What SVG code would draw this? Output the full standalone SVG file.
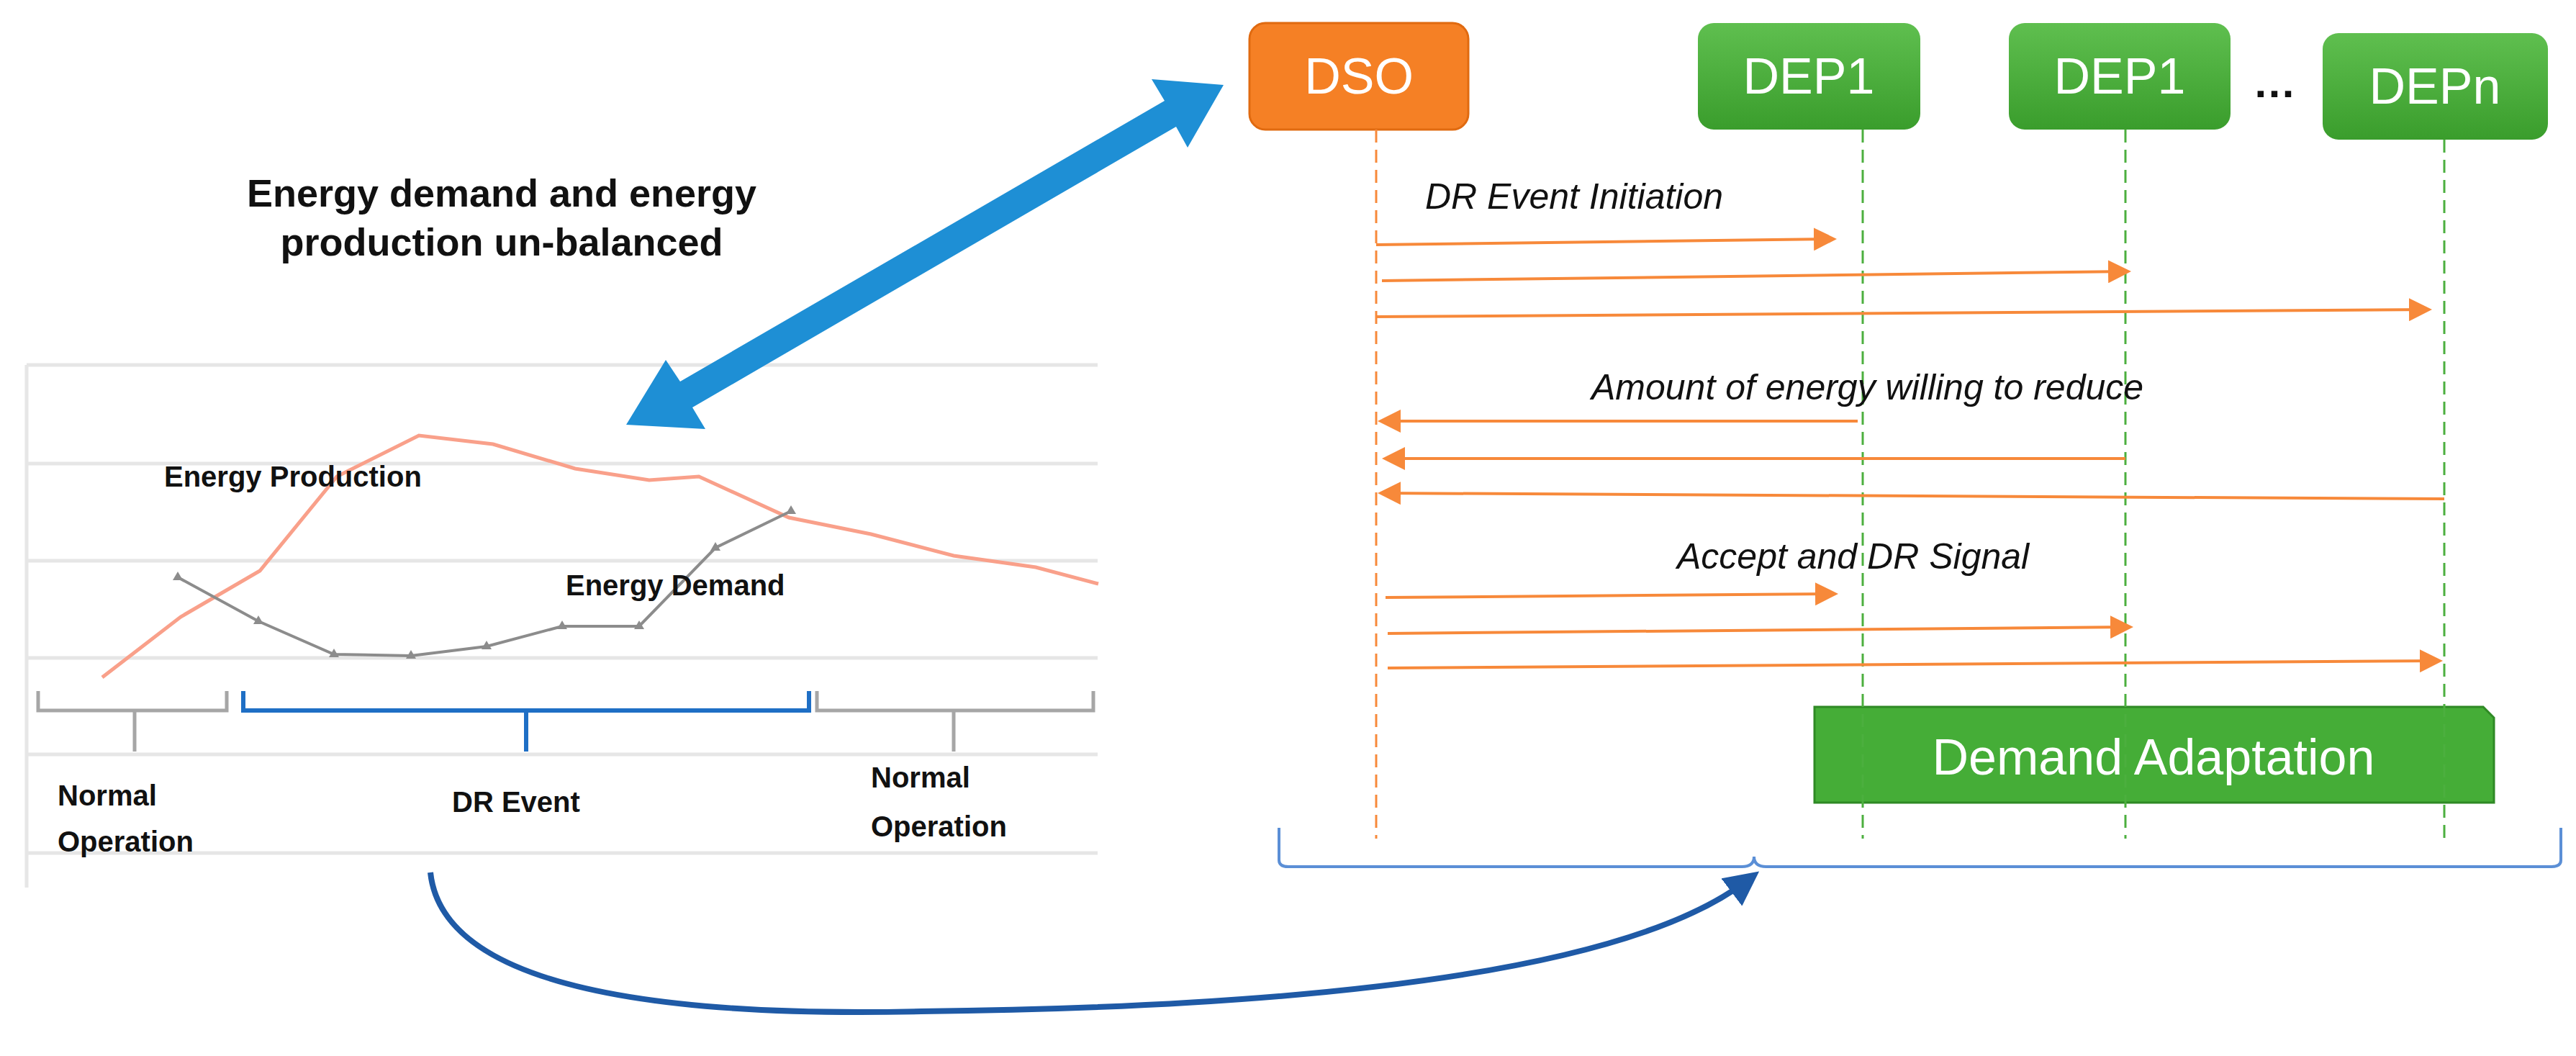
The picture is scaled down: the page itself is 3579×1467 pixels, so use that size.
<svg xmlns="http://www.w3.org/2000/svg" width="3579" height="1467" viewBox="0 0 3579 1467">
<style>
.t{font-family:"Liberation Sans Narrow","Liberation Sans",sans-serif}
.b{font-weight:bold;fill:#111}
.w{fill:#fff;font-size:70px}
.i{font-style:italic;font-size:50px;fill:#111}
.grid{stroke:#e6e6e6;stroke-width:5}
.msg{stroke:#f7893a;stroke-width:4;fill:none;marker-end:url(#oa)}
.life{stroke-width:3;stroke-dasharray:18 10;fill:none}
</style>
<defs>
<marker id="oa" markerWidth="8" markerHeight="8" refX="7" refY="4" orient="auto" markerUnits="strokeWidth"><path d="M0,0L8,4L0,8z" fill="#f7893a"/></marker>
<marker id="ba" markerWidth="6" markerHeight="6" refX="3" refY="3" orient="auto" markerUnits="strokeWidth"><path d="M0,0L6,3L0,6z" fill="#1f5aa6"/></marker>
<linearGradient id="g" x1="0" y1="0" x2="0" y2="1"><stop offset="0" stop-color="#5fbf4f"/><stop offset="1" stop-color="#3a9d2c"/></linearGradient>
</defs>
<g id="chart">
<line class="grid" x1="37" y1="507" x2="1525" y2="507"/>
<line class="grid" x1="37" y1="644" x2="1525" y2="644"/>
<line class="grid" x1="37" y1="779" x2="1525" y2="779"/>
<line class="grid" x1="37" y1="914" x2="1525" y2="914"/>
<line class="grid" x1="37" y1="1048" x2="1525" y2="1048"/>
<line class="grid" x1="37" y1="1185" x2="1525" y2="1185"/>
<line class="grid" x1="37" y1="507" x2="37" y2="1233"/>
<polyline fill="none" stroke="#f9a08a" stroke-width="5" points="142,941 251,857 361,793 468,662 582,605 685,617 799,651 902,667 971,662 1096,719 1210,742 1325,772 1439,788 1526,811"/>
<polyline fill="none" stroke="#8c8c8c" stroke-width="4" points="247,802 359,863 464,909 571,911 676,898 781,870 888,870 994,761 1099,710"/>
<g fill="#8c8c8c"><path d="M247,794l7,12h-14z"/><path d="M359,855l7,12h-14z"/><path d="M464,901l7,12h-14z"/><path d="M571,903l7,12h-14z"/><path d="M676,890l7,12h-14z"/><path d="M781,862l7,12h-14z"/><path d="M888,862l7,12h-14z"/><path d="M994,753l7,12h-14z"/><path d="M1099,702l7,12h-14z"/></g>
<text class="t b" x="228" y="676" font-size="40">Energy Production</text>
<text class="t b" x="786" y="827" font-size="40">Energy Demand</text>
<path d="M53,960V987H315V960M187,987V1044" fill="none" stroke="#a6a6a6" stroke-width="5"/>
<path d="M338,960V987H1124V960M731,987V1044" fill="none" stroke="#1f6fc5" stroke-width="6"/>
<path d="M1135,960V987H1519V960M1325,987V1044" fill="none" stroke="#a6a6a6" stroke-width="5"/>
<text class="t b" font-size="40"><tspan x="80" y="1119">Normal</tspan><tspan x="80" y="1183">Operation</tspan></text>
<text class="t b" x="628" y="1128" font-size="40">DR Event</text>
<text class="t b" font-size="40"><tspan x="1210" y="1094">Normal</tspan><tspan x="1210" y="1162">Operation</tspan></text>
</g>
<text class="t b" font-size="54" text-anchor="middle"><tspan x="697" y="287">Energy demand and energy</tspan><tspan x="697" y="355">production un-balanced</tspan></text>
<g id="DSO"><rect x="1736" y="32" width="304" height="148" rx="22" fill="#f58025" stroke="#e06a10" stroke-width="3"/><text class="t w" x="1888" y="130" text-anchor="middle">DSO</text></g>
<g id="DEP1a"><rect x="2359" y="32" width="309" height="148" rx="22" fill="url(#g)"/><text class="t w" x="2513" y="130" text-anchor="middle">DEP1</text></g>
<g id="DEP1b"><rect x="2791" y="32" width="308" height="148" rx="22" fill="url(#g)"/><text class="t w" x="2945" y="130" text-anchor="middle">DEP1</text></g>
<text class="t" x="3160" y="135" font-size="60" font-weight="bold" text-anchor="middle" fill="#111">…</text>
<g id="DEPn"><rect x="3227" y="46" width="313" height="148" rx="22" fill="url(#g)"/><text class="t w" x="3383" y="144" text-anchor="middle">DEPn</text></g>
<g id="DA"><path d="M2521,982H3450L3465,997V1115H2521z" fill="#45ad37" stroke="#2f8a25" stroke-width="3"/><text class="t w" x="2992" y="1076" text-anchor="middle">Demand Adaptation</text></g>
<g id="connectors">
<line class="life" x1="1912" y1="180" x2="1912" y2="1165" stroke="#f7893a"/>
<line class="life" x1="2588" y1="180" x2="2588" y2="1165" stroke="#4caf3f"/>
<line class="life" x1="2953" y1="180" x2="2953" y2="1165" stroke="#4caf3f"/>
<line class="life" x1="3396" y1="194" x2="3396" y2="1170" stroke="#4caf3f"/>
<text class="t i" x="1980" y="290">DR Event Initiation</text>
<line class="msg" x1="1912" y1="340" x2="2548" y2="332"/>
<line class="msg" x1="1920" y1="390" x2="2957" y2="377"/>
<line class="msg" x1="1912" y1="440" x2="3375" y2="430"/>
<text class="t i" x="2211" y="555">Amount of energy willing to reduce</text>
<line class="msg" x1="2581" y1="585" x2="1918" y2="585"/>
<line class="msg" x1="2953" y1="637" x2="1924" y2="637"/>
<line class="msg" x1="3396" y1="693" x2="1918" y2="685"/>
<text class="t i" x="2330" y="790">Accept and DR Signal</text>
<line class="msg" x1="1925" y1="830" x2="2550" y2="825"/>
<line class="msg" x1="1928" y1="880" x2="2960" y2="871"/>
<line class="msg" x1="1928" y1="928" x2="3390" y2="918"/>
<path d="M1777,1150V1195Q1777,1204 1790,1204H2420Q2437,1204 2437,1190Q2437,1204 2454,1204H3545Q3558,1204 3558,1195V1150" fill="none" stroke="#5b8fd6" stroke-width="4"/>
<path d="M598,1212Q620,1420 1280,1405Q2200,1395 2425,1225" fill="none" stroke="#1f5aa6" stroke-width="8" marker-end="url(#ba)"/>
<g fill="#1e8fd5"><path d="M945,530L1618,140L1600,110L1700,118L1650,205L1634,176L962,566L980,596L870,590L925,500z"/></g>
</g>
</svg>
